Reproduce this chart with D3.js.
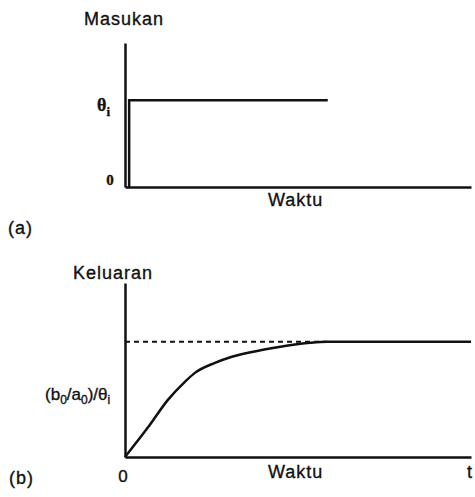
<!DOCTYPE html>
<html>
<head>
<meta charset="utf-8">
<script src="https://cdn.jsdelivr.net/npm/d3@7"></script>
<style>
body { margin: 0; background: #fff; }
text { fill: #111; stroke: #111; stroke-width: 0.35px; }
</style>
</head>
<body>
<div id="chart-area"></div>
<script>
const W = 475
const H = 497

// input: step of height theta_i
const inputT = [1.2, 1.2, 58.6]
const inputV = [0, 1, 1]

// output: first-order response
const outputT = [0, 6.6, 12.4, 17.3, 20.2, 26.0, 30.9, 39.9, 48.6, 53.5, 58.4, 100]
const outputV = [0, 0.255, 0.496, 0.652, 0.730, 0.817, 0.870, 0.930, 0.974, 0.991, 1, 1]

// steady-state reference (dashed)
const steadyT = [0, 58.4]
const steadyV = [1, 1]

const SANS = "'Liberation Sans', Arial, sans-serif"
const SERIF = "'Liberation Serif', 'Times New Roman', serif"

const svg = d3.select("#chart-area").append("svg")
	.attr("width", W)
	.attr("height", H)
	.style("font-family", SANS)

// scales
const x = d3.scaleLinear().domain([0, 100]).range([125, 471])
const yTop = d3.scaleLinear().domain([0, 1.66]).range([187, 43])
const yBot = d3.scaleLinear().domain([0, 1.51]).range([457, 283])

const lineTop = d3.line().x(d => x(d[0])).y(d => yTop(d[1]))
const lineBot = d3.line().x(d => x(d[0])).y(d => yBot(d[1]))
const curveBot = d3.line().x(d => x(d[0])).y(d => yBot(d[1])).curve(d3.curveMonotoneX)

function axes(yScale) {
	svg.append("g")
		.attr("transform", `translate(0, ${yScale(0)})`)
		.call(d3.axisBottom(x).tickValues([]).tickSizeOuter(0))
		.call(g => g.select(".domain").attr("stroke", "#111").attr("stroke-width", 2.5))
	svg.append("g")
		.attr("transform", `translate(${x(0)}, 0)`)
		.call(d3.axisLeft(yScale).tickValues([]).tickSizeOuter(0))
		.call(g => g.select(".domain").attr("stroke", "#111").attr("stroke-width", 2.5))
}

function label(px, py, str, size) {
	return svg.append("text")
		.attr("x", px).attr("y", py)
		.style("font-size", size + "px")
		.style("letter-spacing", "1px")
		.text(str)
}

/******************************** (a) input ********************************/

axes(yTop)

svg.append("path")
	.attr("fill", "none")
	.attr("stroke", "#111")
	.attr("stroke-width", 2.5)
	.attr("d", lineTop(d3.zip(inputT, inputV)))

label(84, 25, "Masukan", 18)

const thetaLab = svg.append("text")
	.attr("x", 97).attr("y", yTop(1) + 11)
	.style("font-family", SERIF)
	.style("font-weight", "bold")
	.style("font-size", "18px")
thetaLab.append("tspan").text("θ")
thetaLab.append("tspan").style("font-size", "13px").attr("dy", 5).text("i")

svg.append("text")
	.attr("x", 110).attr("y", yTop(0) - 2)
	.attr("text-anchor", "middle")
	.style("font-family", SERIF)
	.style("font-weight", "bold")
	.style("font-size", "15px")
	.text("0")

label(268, 206, "Waktu", 18)
label(8, 234, "(a)", 18)

/******************************** (b) output ********************************/

axes(yBot)

svg.append("path")
	.attr("fill", "none")
	.attr("stroke", "#111")
	.attr("stroke-width", 2)
	.attr("stroke-dasharray", "5,4")
	.attr("d", lineBot(d3.zip(steadyT, steadyV)))

svg.append("path")
	.attr("fill", "none")
	.attr("stroke", "#111")
	.attr("stroke-width", 2.5)
	.attr("d", curveBot(d3.zip(outputT, outputV)))

label(73, 279, "Keluaran", 18)

const gainLab = svg.append("text")
	.attr("x", 45).attr("y", 400)
	.style("font-size", "17px")
gainLab.append("tspan").text("(b")
gainLab.append("tspan").style("font-size", "12px").attr("dy", 4).text("0")
gainLab.append("tspan").attr("dy", -4).text("/a")
gainLab.append("tspan").style("font-size", "12px").attr("dy", 4).text("0")
gainLab.append("tspan").attr("dy", -4).text(")/θ")
gainLab.append("tspan").style("font-size", "12px").attr("dy", 4).text("i")

svg.append("text")
	.attr("x", 123).attr("y", 482)
	.attr("text-anchor", "middle")
	.style("font-size", "17px")
	.text("0")

label(268, 478, "Waktu", 18)
label(467, 478, "t", 18)
label(9, 484, "(b)", 18)
</script>
</body>
</html>
